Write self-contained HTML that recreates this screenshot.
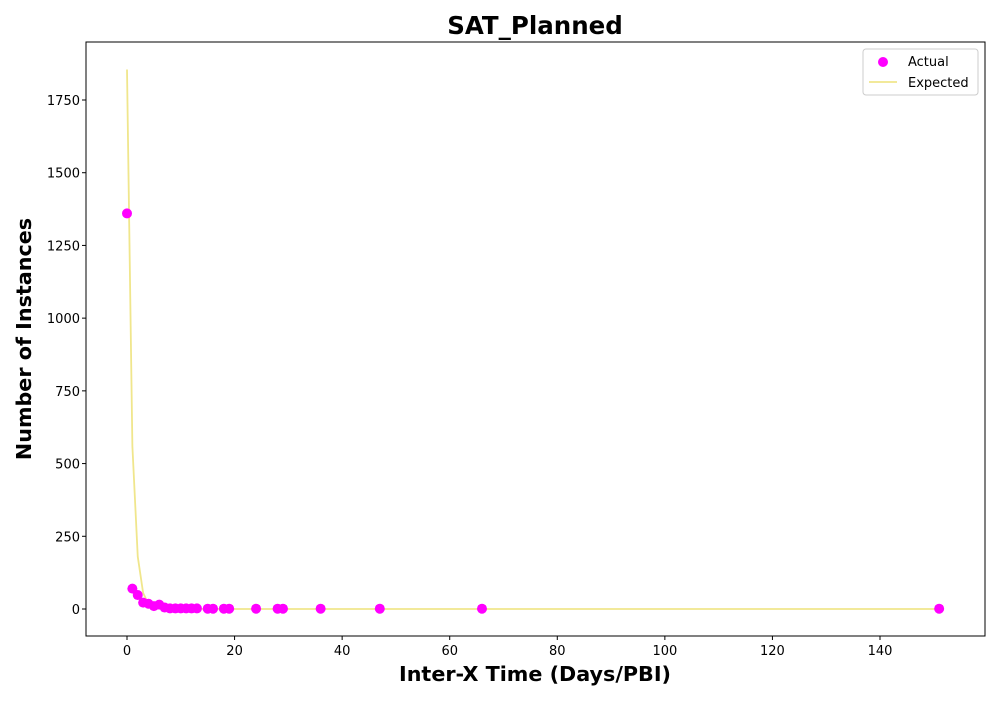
<!DOCTYPE html>
<html><head><meta charset="utf-8"><style>
body{margin:0;background:#fff;font-family:"DejaVu Sans",sans-serif}
</style></head><body>
<svg id="c" width="1000" height="700" xmlns="http://www.w3.org/2000/svg" font-family="DejaVu Sans, sans-serif"></svg>
<script>
const actualX=[0,1,2,3,4,5,6,7,8,9,10,11,12,13,15,16,18,19,24,28,29,36,47,66,151];
const actualY=[1360,70,48,22,18,10,15,5,2,2,2,2,2,2,1,1,1,1,1,1,1,1,1,1,1];
const expectedX=[0,1,2,3,4,5,6,7,8,10,12,151];
const expectedY=[1855,560,180,55,17,5,2,1,0,0,0,0];
const xTicks=[0,20,40,60,80,100,120,140];
const yTicks=[0,250,500,750,1000,1250,1500,1750];
const NS="http://www.w3.org/2000/svg";
const svg=document.getElementById('c');
const L=86,R=985,T=42,B=636;
const sx=v=>127+v*(880-127)/140;
const sy=v=>609-v*(609-100)/1750;
function mk(t,a,p){const e=document.createElementNS(NS,t);for(const k in a)e.setAttribute(k,a[k]);(p||svg).appendChild(e);return e;}
let e;
e=mk('rect',{x:L,y:T,width:R-L,height:B-T,fill:'#fff',stroke:'#000','stroke-width':1});


xTicks.forEach(v=>{const x=sx(v);
e=mk('line',{x1:x,x2:x,y1:B,y2:B+4,stroke:'#000'});


e=mk('text',{x:x,y:B+19,'text-anchor':'middle','font-size':13});e.textContent=v;

});
yTicks.forEach(v=>{const y=sy(v);
e=mk('line',{x1:L-4,x2:L,y1:y,y2:y,stroke:'#000'});


e=mk('text',{x:L-6,y:y+5,'text-anchor':'end','font-size':13});e.textContent=v;

});
let d=expectedX.map((x,i)=>(i?'L':'M')+sx(x)+','+sy(expectedY[i])).join(' ');
e=mk('path',{d:d,fill:'none',stroke:'#f0e68c','stroke-width':1.8});


actualX.forEach((x,i)=>{e=mk('circle',{cx:sx(x),cy:sy(actualY[i]),r:5,fill:'#ff00ff'});

});
e=mk('text',{x:535,y:34,'text-anchor':'middle','font-size':24.5,'font-weight':'bold'});e.textContent='SAT_Planned';


e=mk('text',{x:535,y:681,'text-anchor':'middle','font-size':20.7,'font-weight':'bold'});e.textContent='Inter-X Time (Days/PBI)';


e=mk('text',{x:31,y:339,'text-anchor':'middle','font-size':20.7,'font-weight':'bold',transform:'rotate(-90 31 339)'});e.textContent='Number of Instances';


const g=mk('g',{});


mk('rect',{x:863,y:49,width:115,height:46,fill:'#fff',stroke:'#ccc',rx:3},g);
e=mk('circle',{cx:883,cy:62,r:5,fill:'#ff00ff'},g);


e=mk('text',{x:908,y:66,'font-size':13},g);e.textContent='Actual';


e=mk('line',{x1:869,x2:897,y1:82,y2:82,stroke:'#f0e68c','stroke-width':1.8},g);


e=mk('text',{x:908,y:87,'font-size':13},g);e.textContent='Expected';


</script>
</body></html>
